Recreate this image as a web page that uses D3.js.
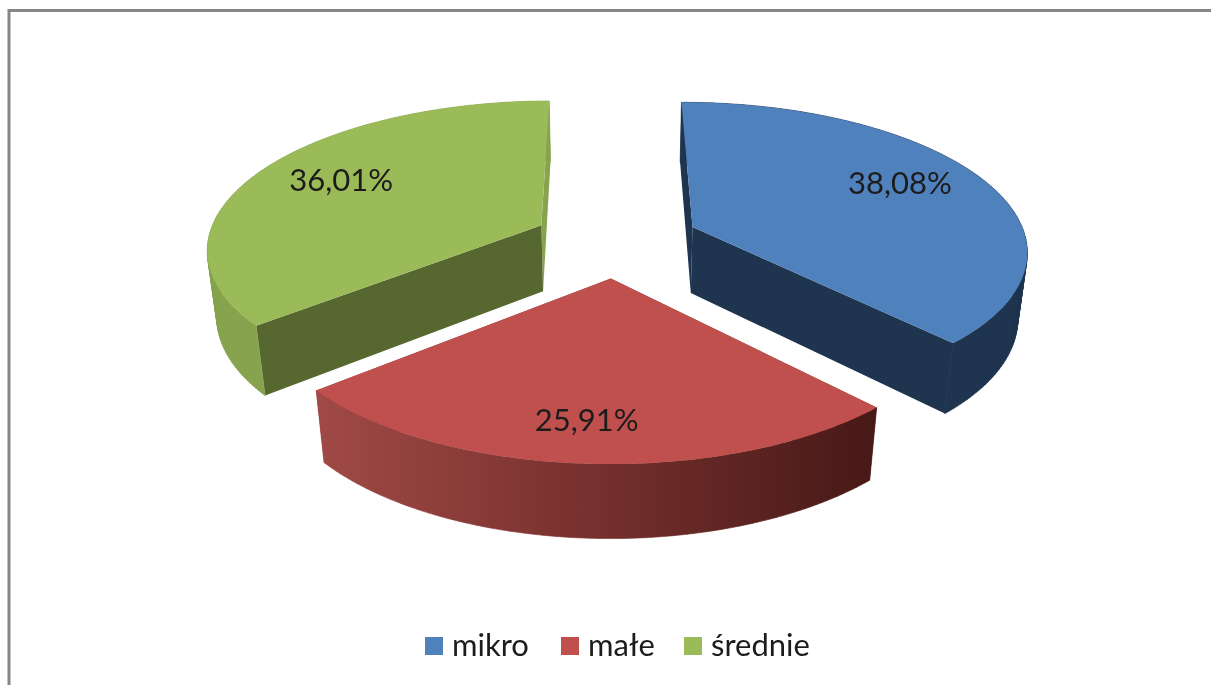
<!DOCTYPE html>
<html>
<head>
<meta charset="utf-8">
<script src="https://cdn.jsdelivr.net/npm/d3@7"></script>
<style>
  html, body { margin: 0; padding: 0; background: #fff; overflow: hidden; }
  svg { filter: blur(0.7px); }
  text { font-family: Lato, "Noto Sans", sans-serif; fill: #1c1c1c; }
</style>
</head>
<body>
<svg id="chart" width="1211" height="685"></svg>
<script>
const categories = ["mikro", "małe", "średnie"];
const shares = [38.08, 25.91, 36.01];
const shareLabels = ["38,08%", "25,91%", "36,01%"];
const topColors = ["#4f81bd", "#c0504d", "#9bbb59"];
const startCutColors = ["#1f344f", "#8c3b38", "#56682f"];
const endCutColors = ["#1f344f", "#8c3b38", "#87a34e"];
const wallColors = ["#1f344f", "#8c3b38", "#87a34e"];

const svg = d3.select("#chart");

// frame around the chart
svg.append("path")
    .attr("d", "M9,685V10.5H1211")
    .attr("fill", "none")
    .attr("stroke", "#868686")
    .attr("stroke-width", 3);

// camera for the tilted pie, radius of the pie = 1
const cx = 616, cy = 240.5;
const scaleX = 334, scaleY = 146.5, thick = 68;
const perspY = 0.145, perspZ = 0.0235;
const explode = 0.25;

function project(x, y, z) {
    const w = 1 - perspY * y + perspZ * z;
    return [cx + scaleX * x / w, cy + (scaleY * y + thick * z) / w];
}

const pie = d3.pie()
    .sort(null)
    .startAngle(-0.3 * Math.PI / 180)
    .endAngle((360 - 0.3) * Math.PI / 180);
const slices = pie(shares);

const line = d3.line();
const step = Math.PI / 180;

const defs = svg.append("defs");
const redGrad = defs.append("linearGradient")
    .attr("id", "redWall")
    .attr("gradientUnits", "userSpaceOnUse")
    .attr("x1", 312).attr("x2", 877).attr("y1", 0).attr("y2", 0);
redGrad.append("stop").attr("offset", 0).attr("stop-color", "#a14a47");
redGrad.append("stop").attr("offset", 0.5).attr("stop-color", "#76302d");
redGrad.append("stop").attr("offset", 1).attr("stop-color", "#461917");

slices.forEach(s => {
    s.mid = (s.startAngle + s.endAngle) / 2;
    s.dx = explode * Math.sin(s.mid);
    s.dy = -explode * Math.cos(s.mid);
    s.pt = (a, z) => project(s.dx + Math.sin(a), s.dy - Math.cos(a), z);
    s.apex = z => project(s.dx, s.dy, z);
    s.arc = d3.range(s.startAngle, s.endAngle, step).concat(s.endAngle);
});

// one wall quad, always wound the same way so the union fills under nonzero
function wallQuad(s, a, b) {
    const quad = [s.pt(a, 0), s.pt(b, 0), s.pt(b, 1), s.pt(a, 1)];
    if (d3.polygonArea(quad) < 0) quad.reverse();
    return line(quad) + "Z";
}

// back to front: green, blue, then the red one
[2, 0, 1].forEach(i => {
    const s = slices[i];
    const g = svg.append("g");

    const cut = a => line([s.apex(0), s.pt(a, 0), s.pt(a, 1), s.apex(1)]) + "Z";
    g.append("path").attr("d", cut(s.endAngle)).attr("fill", endCutColors[i]);
    g.append("path").attr("d", cut(s.startAngle)).attr("fill", startCutColors[i]);

    const wallFill = i === 1 ? "url(#redWall)" : wallColors[i];
    g.append("path")
        .attr("d", d3.pairs(s.arc).map(([a, b]) => wallQuad(s, a, b)).join(""))
        .attr("fill", wallFill)
        .attr("stroke", wallFill)
        .attr("stroke-width", 0.6);

    const top = [s.apex(0)].concat(s.arc.map(a => s.pt(a, 0)));
    g.append("path").attr("d", line(top) + "Z").attr("fill", topColors[i]);
});

// value labels, sitting on the top faces
const labelPos = [[0.72, 0.86], [1.0, 0.795], [0.715, 0.80]];
slices.forEach((s, i) => {
    const p = project(s.dx + labelPos[i][0] * Math.sin(s.mid), s.dy - labelPos[i][1] * Math.cos(s.mid), 0);
    svg.append("text")
        .attr("x", p[0])
        .attr("y", p[1])
        .attr("dy", "0.35em")
        .attr("text-anchor", "middle")
        .attr("font-size", 31)
        .text(shareLabels[i]);
});

// legend
const legendX = d3.scaleOrdinal().domain(categories).range([425, 561, 684]);
const legend = svg.append("g")
    .selectAll("g")
    .data(categories)
    .enter().append("g")
    .attr("transform", d => `translate(${legendX(d)},637)`);
legend.append("rect")
    .attr("width", 18)
    .attr("height", 18)
    .attr("fill", (d, i) => topColors[i]);
legend.append("text")
    .attr("x", 27)
    .attr("y", 19)
    .attr("font-size", 31)
    .text(d => d);
</script>
</body>
</html>
